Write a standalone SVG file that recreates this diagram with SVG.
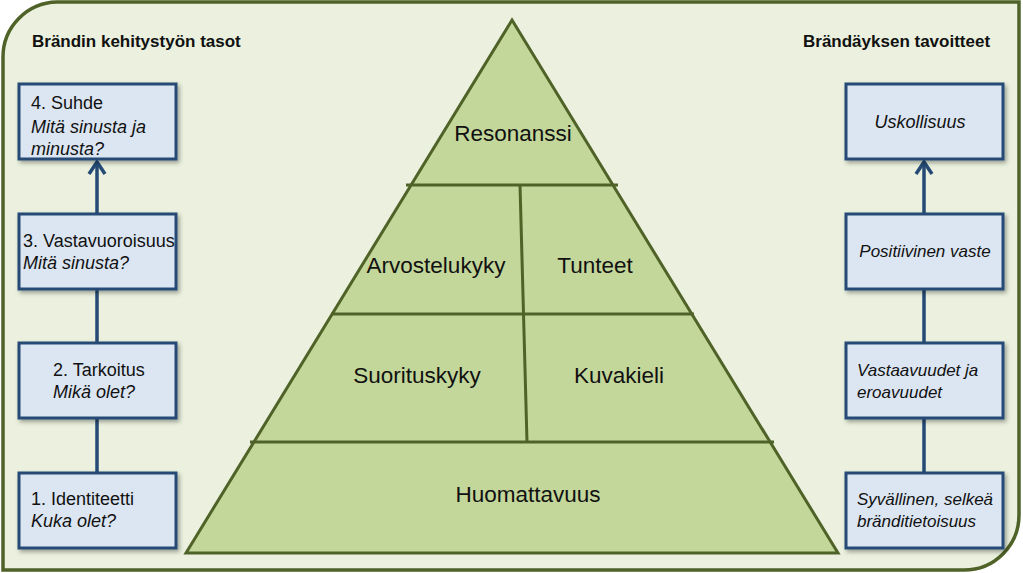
<svg xmlns="http://www.w3.org/2000/svg" width="1023" height="573" viewBox="0 0 1023 573">
<style>
.frame{fill:#ebf1de;stroke:#4f6228;stroke-width:3.5}
.pyr{fill:#c4d79b;stroke:#4f6228;stroke-width:3;stroke-linejoin:miter}
.div{stroke:#4f6228;stroke-width:3;fill:none}
.box{fill:#dce6f2;stroke:#254a75;stroke-width:3;filter:url(#sh)}
.con{stroke:#254a75;stroke-width:3.5;fill:none}
.t{font-family:"Liberation Sans",Arial,sans-serif;fill:#111}
.h{font-size:17px;font-weight:bold}
.b{font-size:18px}
.r{font-size:17px}
.i{font-style:italic}
.p{font-size:22.5px;text-anchor:middle}
.c{text-anchor:middle}
</style>
<defs>
<filter id="sh" x="-10%" y="-10%" width="130%" height="140%">
<feDropShadow dx="2" dy="2.5" stdDeviation="2" flood-color="#000" flood-opacity="0.35"/>
</filter>
<marker id="arr" markerWidth="20" markerHeight="20" refX="14" refY="10" orient="auto" markerUnits="userSpaceOnUse" viewBox="0 0 20 20">
<path d="M2,2 L14,10 L2,18" fill="none" stroke="#254a75" stroke-width="3.5"/>
</marker>
</defs>
<path class="frame" d="M57,2 H1019 V515 A55,55 0 0 1 964,570 H3 V57 A55,55 0 0 1 57,2 Z"/>
<text class="t h" x="32" y="47">Brändin kehitystyön tasot</text>
<text class="t h" x="803" y="47">Brändäyksen tavoitteet</text>
<g id="pyramid">
<path class="pyr" d="M512,20 L838,553 L186,553 Z"/>
<line class="div" x1="406" y1="185" x2="618" y2="185"/>
<line class="div" x1="331" y1="314" x2="694" y2="314"/>
<line class="div" x1="250" y1="442" x2="774" y2="442"/>
<line class="div" x1="520" y1="185" x2="527" y2="442"/>
<text class="t p" x="513" y="141">Resonanssi</text>
<text class="t p" x="436" y="273">Arvostelukyky</text>
<text class="t p" x="595" y="273">Tunteet</text>
<text class="t p" x="417" y="383">Suorituskyky</text>
<text class="t p" x="619" y="383">Kuvakieli</text>
<text class="t p" x="528" y="502">Huomattavuus</text>
</g>
<g id="connectors">
<line class="con" x1="97" y1="214" x2="97" y2="162" marker-end="url(#arr)"/>
<line class="con" x1="97" y1="343" x2="97" y2="289"/>
<line class="con" x1="97" y1="473" x2="97" y2="418"/>
<line class="con" x1="924" y1="214" x2="924" y2="162" marker-end="url(#arr)"/>
<line class="con" x1="924" y1="343" x2="924" y2="289"/>
<line class="con" x1="924" y1="473" x2="924" y2="418"/>
</g>
<g id="l4">
<rect class="box" x="19" y="84" width="157" height="75"/>
<text class="t b" x="31" y="109">4. Suhde</text>
<text class="t b i" x="31" y="133">Mitä sinusta ja</text>
<text class="t b i" x="31" y="155">minusta?</text>
</g>
<g id="l3">
<rect class="box" x="19" y="214" width="157" height="75"/>
<text class="t b" x="23" y="247">3. Vastavuoroisuus</text>
<text class="t b i" x="23" y="269">Mitä sinusta?</text>
</g>
<g id="l2">
<rect class="box" x="19" y="343" width="157" height="75"/>
<text class="t b" x="53" y="376">2. Tarkoitus</text>
<text class="t b i" x="53" y="398">Mikä olet?</text>
</g>
<g id="l1">
<rect class="box" x="19" y="473" width="157" height="75"/>
<text class="t b" x="31" y="505">1. Identiteetti</text>
<text class="t b i" x="31" y="527">Kuka olet?</text>
</g>
<g id="r4">
<rect class="box" x="846" y="84" width="157" height="75"/>
<text class="t b i c" x="920" y="128">Uskollisuus</text>
</g>
<g id="r3">
<rect class="box" x="846" y="214" width="157" height="75"/>
<text class="t r i c" x="925" y="257">Positiivinen vaste</text>
</g>
<g id="r2">
<rect class="box" x="846" y="343" width="157" height="75"/>
<text class="t r i" x="857" y="376">Vastaavuudet ja</text>
<text class="t r i" x="857" y="398">eroavuudet</text>
</g>
<g id="r1">
<rect class="box" x="846" y="473" width="157" height="75"/>
<text class="t r i" x="857" y="505">Syvällinen, selkeä</text>
<text class="t r i" x="857" y="527">bränditietoisuus</text>
</g>
</svg>
